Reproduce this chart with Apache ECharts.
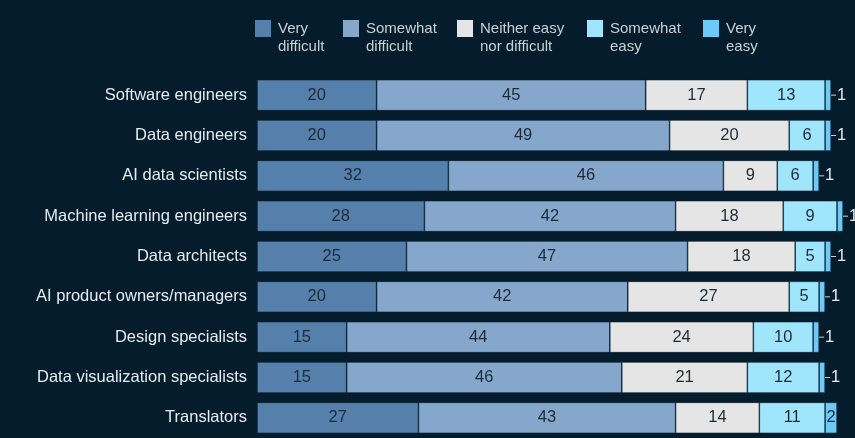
<!DOCTYPE html>
<html>
<head>
<meta charset="utf-8">
<script src="https://cdn.jsdelivr.net/npm/echarts@6/dist/echarts.min.js"></script>
<style>
  html, body { margin: 0; padding: 0; background: #051c2c; }
  #chart { width: 855px; height: 438px; }
</style>
</head>
<body>
<div id="chart"></div>
<script>
// Roles, top to bottom
const categories = [
  'Software engineers',
  'Data engineers',
  'AI data scientists',
  'Machine learning engineers',
  'Data architects',
  'AI product owners/managers',
  'Design specialists',
  'Data visualization specialists',
  'Translators'
];

// Share of respondents (%) per difficulty level
const veryDifficult     = [20, 20, 32, 28, 25, 20, 15, 15, 27];
const somewhatDifficult = [45, 49, 46, 42, 47, 42, 44, 46, 43];
const neither           = [17, 20,  9, 18, 18, 27, 24, 21, 14];
const somewhatEasy      = [13,  6,  6,  9,  5,  5, 10, 12, 11];
const veryEasy          = [ 1,  1,  1,  1,  1,  1,  1,  1,  2];

const seriesNames = [
  'Very\ndifficult',
  'Somewhat\ndifficult',
  'Neither easy\nnor difficult',
  'Somewhat\neasy',
  'Very\neasy'
];
const seriesValues = [veryDifficult, somewhatDifficult, neither, somewhatEasy, veryEasy];
const colors = ['#5580ab', '#84a7cb', '#e5e5e5', '#9fe5fc', '#6dc9f5'];
const legendLeft = [255, 343, 457, 587, 703];

const FONT = '"Liberation Sans", Arial, sans-serif';
const BG = '#051c2c';

// Legend marker: square on top, empty space below so it lines up with the first text line
const legendIcon = 'path://M0,0H16V17H0Z M0,36L0.01,36';

const labelInside = {
  show: true,
  position: 'inside',
  color: '#1f2a36',
  fontFamily: FONT,
  fontSize: 16.5
};

const labelOutside = {
  show: true,
  position: 'right',
  distance: 0,
  formatter: function (p) { return '{l|}{v|' + p.value + '}'; },
  rich: {
    l: { width: 5, height: 1, backgroundColor: '#c8d0d6' },
    v: { color: '#e6ebee', fontFamily: FONT, fontSize: 16.5, padding: [0, 0, 0, 1] }
  }
};

const series = seriesValues.map(function (vals, i) {
  return {
    name: seriesNames[i],
    type: 'bar',
    stack: 'total',
    barWidth: 31,
    itemStyle: { color: colors[i], borderColor: BG, borderWidth: 0.6 },
    label: labelInside,
    data: vals.map(function (v) {
      if (i === 4 && v < 2) return { value: v, label: labelOutside };
      return v;
    })
  };
});

const legends = seriesNames.map(function (name, i) {
  return {
    data: [{ name: name, icon: legendIcon }],
    left: legendLeft[i],
    top: 18,
    padding: 0,
    orient: 'horizontal',
    itemWidth: 16,
    itemHeight: 36,
    itemGap: 0,
    selectedMode: false,
    itemStyle: { borderWidth: 0 },
    textStyle: {
      color: '#c8d0d6',
      fontFamily: FONT,
      fontSize: 15,
      lineHeight: 18,
      padding: [4, 0, 0, 2]
    }
  };
});

const chart = echarts.init(document.getElementById('chart'), null, { renderer: 'canvas' });
chart.setOption({
  backgroundColor: BG,
  animation: false,
  color: colors,
  legend: legends,
  grid: { left: 257, right: -2, top: 75, bottom: -4, containLabel: false },
  xAxis: {
    type: 'value',
    min: 0,
    max: 100,
    show: false
  },
  yAxis: {
    type: 'category',
    data: categories,
    inverse: true,
    axisLine: { show: false },
    axisTick: { show: false },
    axisLabel: {
      color: '#e6ebee',
      fontFamily: FONT,
      fontSize: 16.5,
      margin: 10
    }
  },
  series: series
});
</script>
</body>
</html>
